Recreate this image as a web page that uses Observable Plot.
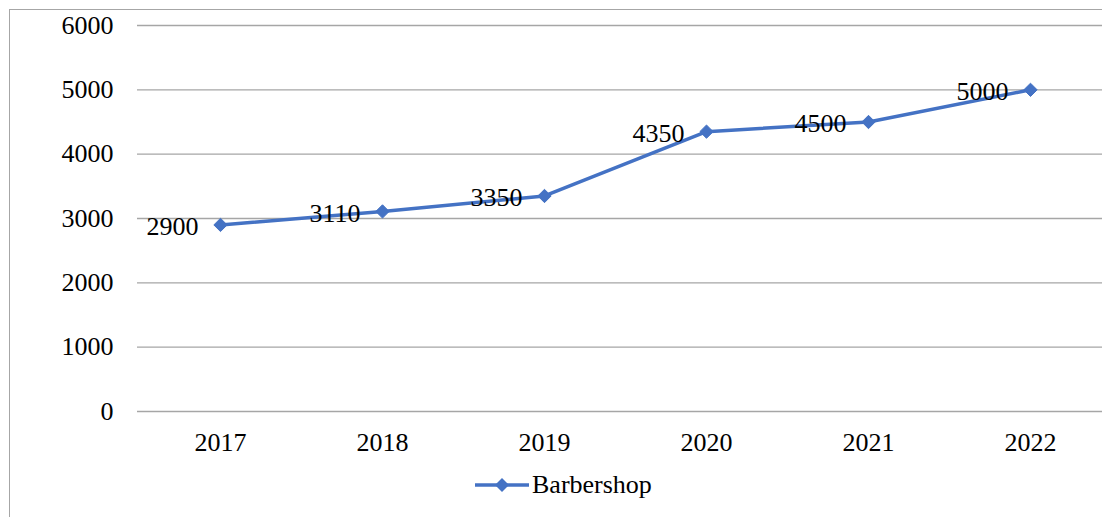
<!DOCTYPE html>
<html>
<head>
<meta charset="utf-8">
<script src="https://cdn.jsdelivr.net/npm/d3@7"></script>
<script src="https://cdn.jsdelivr.net/npm/@observablehq/plot@0.6"></script>
<style>
  html, body { margin: 0; padding: 0; background: #fff; overflow: hidden; width: 1102px; height: 517px; }
  #frame { position: absolute; left: 9px; top: 9px; width: 1200px; height: 600px; border: 1.5px solid #a6a6a6; box-sizing: border-box; pointer-events: none; }
  #chart { position: absolute; left: 0; top: 0; width: 1120px; }
  #chart svg { max-width: none !important; width: 1120px; height: 460px; }
  #legend { position: absolute; left: 474px; top: 470px; height: 30px; display: flex; align-items: center;
            font-family: "Liberation Serif", "Times New Roman", Tinos, "DejaVu Serif", serif; font-size: 26px; color: #000; }
  #legend svg { margin-right: 2px; }
</style>
</head>
<body>
<div id="frame"></div>
<div id="chart"></div>
<div id="legend"></div>
<script>
const years = ["2017", "2018", "2019", "2020", "2021", "2022"];
const barbershop = [2900, 3110, 3350, 4350, 4500, 5000];
const yTicks = [0, 1000, 2000, 3000, 4000, 5000, 6000];
const seriesName = "Barbershop";
const color = "#4472C4";
const serif = "'Liberation Serif', 'Times New Roman', Tinos, 'DejaVu Serif', serif";

const data = years.map((y, i) => ({year: y, value: barbershop[i]}));

const chart = Plot.plot({
  width: 1120,
  height: 460,
  marginTop: 25,
  marginBottom: 49,
  marginLeft: 137,
  marginRight: 8,
  style: {fontFamily: serif, fontSize: "26px", color: "#000", background: "transparent", maxWidth: "none"},
  x: {type: "point", domain: years, padding: 0.5, label: null},
  y: {domain: [0, 6000], ticks: yTicks, label: null},
  marks: [
    Plot.ruleY(yTicks, {stroke: "#a6a6a6", strokeWidth: 1.3}),
    Plot.axisY({ticks: yTicks, tickSize: 0, tickPadding: 24, label: null, fontSize: 26, fontFamily: serif, tickFormat: d => String(d)}),
    Plot.axisX({tickSize: 0, tickPadding: 21, label: null, fontSize: 26, fontFamily: serif}),
    Plot.line(data, {x: "year", y: "value", stroke: color, strokeWidth: 3.5}),
    Plot.dot(data, {x: "year", y: "value", symbol: "diamond2", r: 6, fill: color, stroke: color, strokeWidth: 1}),
    Plot.text(data, {x: "year", y: "value", text: d => String(d.value), textAnchor: "end", dx: -22, dy: 2, fontSize: 26, fontFamily: serif, fill: "#000"})
  ]
});
document.getElementById("chart").appendChild(chart);

// legend
const leg = document.getElementById("legend");
const sw = d3.create("svg").attr("width", 56).attr("height", 30);
sw.append("line").attr("x1", 1).attr("x2", 55).attr("y1", 15).attr("y2", 15).attr("stroke", color).attr("stroke-width", 3.5);
sw.append("path").attr("d", "M28,8L35,15L28,22L21,15Z").attr("fill", color);
leg.appendChild(sw.node());
const lab = document.createElement("span");
lab.textContent = seriesName;
leg.appendChild(lab);
</script>
</body>
</html>
